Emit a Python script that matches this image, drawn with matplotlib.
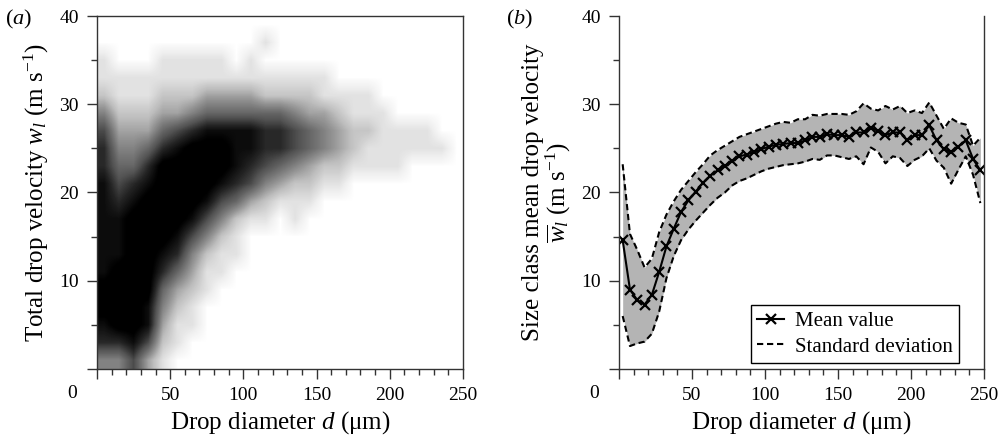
import numpy as np
import matplotlib
matplotlib.use("Agg")
import matplotlib.pyplot as plt
from matplotlib.ticker import MultipleLocator
from matplotlib.colors import PowerNorm

plt.rcParams['font.family'] = ['Liberation Serif', 'DejaVu Serif']
plt.rcParams['mathtext.fontset'] = 'custom'
plt.rcParams['mathtext.rm'] = 'Liberation Serif'
plt.rcParams['mathtext.it'] = 'Liberation Serif:italic'

# (a) point density of the scatter cloud (0 = empty, 9 = solid)
# columns: d = 0-10, 10-20, ..., 240-250 um ; rows: w = 38-40 (top) ... 0-2 (bottom) m/s
density_rows = [
    "0000000000000000000000000",
    "0000000000010000000000000",
    "1000111110100000000000000",
    "1111111111111111000000000",
    "2111222333322221111000000",
    "4222334555555433211100000",
    "6333567888877654322111100",
    "7445789998877654321111110",
    "7557999998765432211110000",
    "8678999987643221100000000",
    "8789999865321110000000000",
    "8899998642110100000000000",
    "8899986421000000000000000",
    "8899874211000000000000000",
    "8999753110000000000000000",
    "9999532100000000000000000",
    "9998421000000000000000000",
    "8998311000000000000000000",
    "7786210000000000000000000",
    "4463100000000000000000000",
]

# (b) size-class statistics
d_class = np.arange(2.5, 250, 5.0)
w_mean = [14.6, 9.0, 7.8, 7.3, 8.4, 11.0, 13.9, 15.9, 17.8, 19.1,
          20.1, 21.1, 21.9, 22.5, 23.0, 23.6, 24.1, 24.3, 24.6, 24.9,
          25.2, 25.4, 25.5, 25.6, 25.6, 25.9, 26.3, 26.3, 26.6, 26.5,
          26.5, 26.3, 26.8, 26.8, 27.3, 27.0, 26.5, 26.8, 26.8, 25.9,
          26.5, 26.5, 27.6, 25.9, 24.9, 24.6, 25.2, 25.9, 23.8, 22.5]
w_upper = [23.2, 15.3, 13.5, 11.5, 12.5, 15.5, 17.5, 19.0, 20.3, 21.3,
           22.3, 23.2, 24.2, 24.8, 25.3, 25.8, 26.3, 26.6, 26.9, 27.2,
           27.5, 27.8, 28.0, 27.9, 28.3, 28.3, 28.8, 28.7, 28.9, 28.9,
           28.9, 28.8, 29.2, 30.1, 29.5, 29.3, 29.8, 29.4, 29.8, 29.0,
           29.3, 29.0, 30.2, 28.7, 27.2, 28.4, 27.9, 27.7, 25.3, 26.2]
w_lower = [6.0, 2.6, 2.9, 3.1, 4.0, 6.5, 10.3, 12.8, 14.6, 15.8,
           16.8, 17.7, 18.6, 19.4, 20.0, 20.8, 21.3, 21.6, 22.0, 22.4,
           22.7, 22.9, 23.1, 23.2, 23.3, 23.5, 23.8, 23.7, 24.2, 24.2,
           24.0, 23.8, 24.1, 23.2, 25.1, 24.6, 23.3, 24.1, 23.9, 23.0,
           23.7, 24.1, 25.0, 23.6, 22.8, 21.0, 22.6, 24.1, 22.0, 18.8]

fig = plt.figure(figsize=(10.08, 4.42), dpi=100)
ax1 = fig.add_axes([0.0962, 0.1652, 0.3631, 0.7986])
ax2 = fig.add_axes([0.6141, 0.1652, 0.3621, 0.7986])


def style(ax):
    ax.set_xlim(0, 250)
    ax.set_ylim(0, 40)
    ax.xaxis.set_major_locator(MultipleLocator(50))
    ax.xaxis.set_minor_locator(MultipleLocator(10))
    ax.yaxis.set_major_locator(MultipleLocator(10))
    ax.yaxis.set_minor_locator(MultipleLocator(5))
    ax.tick_params(which='major', direction='out', length=7, width=1, labelsize=14, pad=6, color='#333333')
    ax.tick_params(which='minor', direction='out', length=4, width=1, color='#333333')
    ax.set_xticks([0, 50, 100, 150, 200, 250])
    ax.set_xticklabels(['', '50', '100', '150', '200', '250'])
    ax.set_yticks([0, 10, 20, 30, 40])
    ax.set_yticklabels(['', '10', '20', '30', '40'])
    for s in ax.spines.values():
        s.set_linewidth(1)
        s.set_color('#333333')
    ax.annotate('0', xy=(0, 0), xycoords='data', xytext=(-18, -18),
                textcoords='offset points', ha='center', va='center', fontsize=14)
    ax.set_xlabel(r'Drop diameter $d$ (μm)', fontsize=18, labelpad=4)


# panel (a)
dens = np.array([[int(c) for c in row] for row in density_rows], dtype=float)
ax1.imshow(dens, extent=[0, 250, 0, 40], origin='upper', aspect='auto',
           cmap='Greys', norm=PowerNorm(gamma=0.75, vmin=0, vmax=8.5),
           interpolation='bilinear')
style(ax1)
ax1.set_ylabel(r'Total drop velocity $w_l$ (m s$^{-1}$)', fontsize=18, labelpad=6)
fig.text(0.005, 0.955, r'($a$)', fontsize=16, va='center')

# panel (b)
ax2.fill_between(d_class, w_lower, w_upper, color='#b4b4b4', lw=0)
ax2.plot(d_class, w_upper, color='black', ls='--', lw=1.5, dashes=(3, 1.8))
std_line, = ax2.plot(d_class, w_lower, color='black', ls='--', lw=1.5, dashes=(3, 1.8),
                     label='Standard deviation')
mean_line, = ax2.plot(d_class, w_mean, color='black', lw=1.5, marker='x',
                      markersize=7, mew=1.6, label='Mean value')
style(ax2)
ax2.spines['top'].set_visible(False)
ax2.set_ylabel('Size class mean drop velocity\n' + r'$\overline{w}_l$ (m s$^{-1}$)',
               fontsize=18, labelpad=6, linespacing=1.0)
leg = ax2.legend(handles=[mean_line, std_line], loc='lower right', fontsize=15,
                 bbox_to_anchor=(0.9514, 0.1787), bbox_transform=fig.transFigure,
                 frameon=True, fancybox=False, edgecolor='black', framealpha=1,
                 borderaxespad=0, handlelength=1.3, handletextpad=0.5,
                 borderpad=0.3, labelspacing=0.3)
leg.get_frame().set_linewidth(1)
fig.text(0.502, 0.955, r'($b$)', fontsize=16, va='center')

fig.savefig('out.png', dpi=100)
